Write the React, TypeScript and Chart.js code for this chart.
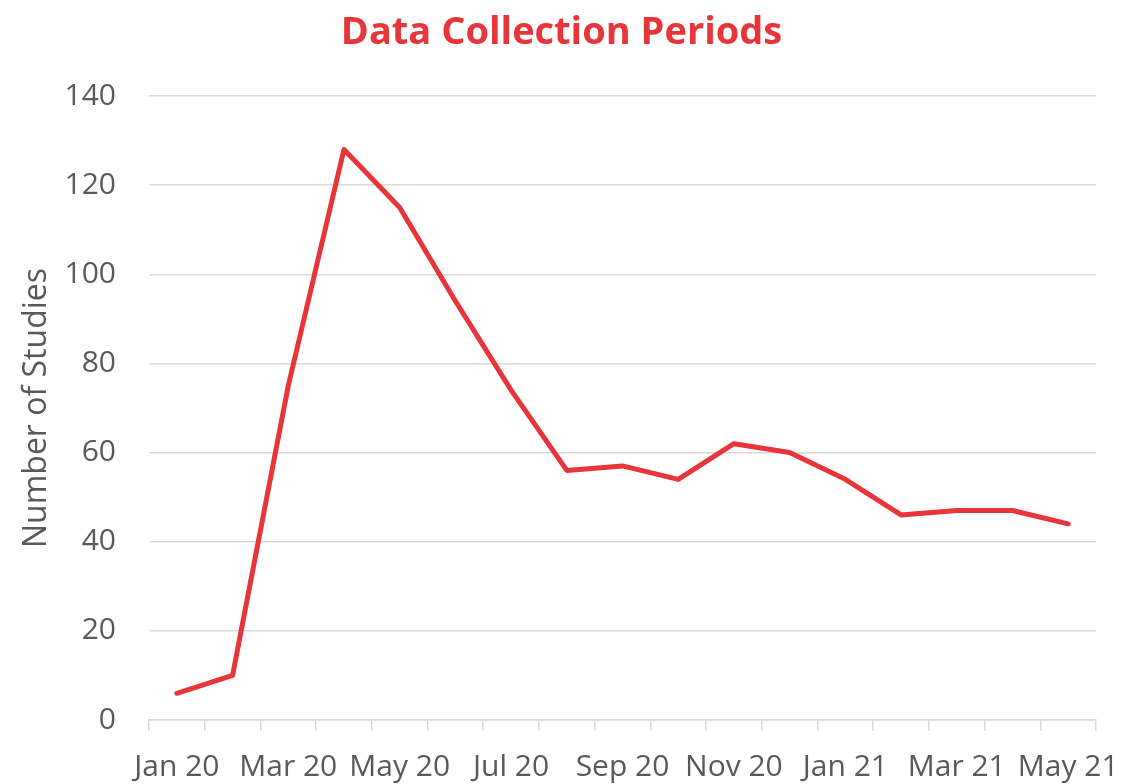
import React, { useEffect, useRef } from "react";
import { Chart, registerables } from "chart.js";

Chart.register(...registerables);

const months = [
  "Jan 20", "Feb 20", "Mar 20", "Apr 20", "May 20", "Jun 20", "Jul 20", "Aug 20", "Sep 20",
  "Oct 20", "Nov 20", "Dec 20", "Jan 21", "Feb 21", "Mar 21", "Apr 21", "May 21",
];
const studies = [6, 10, 75, 128, 115, 94, 74, 56, 57, 54, 62, 60, 54, 46, 47, 47, 44];
const yTicks = { min: 0, max: 140, step: 20 };
const chartTitle = "Data Collection Periods";
const yTitle = "Number of Studies";

const RED = "#E8353A";
const GRAY = "#595959";
const GRID = "#D9D9D9";
const FONT = "'Open Sans', 'Noto Sans', sans-serif";

export default function App() {
  const ref = useRef<HTMLCanvasElement>(null);
  useEffect(() => {
    if (!ref.current) return;
    const titlePlugin = {
      id: "fixedTitle",
      afterDraw(chart: any) {
        const ctx = chart.ctx;
        ctx.save();
        ctx.font = `bold 38px ${FONT}`;
        ctx.fillStyle = RED;
        ctx.textAlign = "center";
        ctx.textBaseline = "middle";
        ctx.fillText(chartTitle, chart.width / 2, 33);
        ctx.restore();
      },
    };
    const chart = new Chart(ref.current, {
      type: "line",
      data: {
        labels: months,
        datasets: [
          {
            data: studies,
            borderColor: RED,
            backgroundColor: RED,
            borderWidth: 5,
            pointRadius: 0,
            borderCapStyle: "round",
            borderJoinStyle: "round",
            tension: 0,
          },
        ],
      },
      options: {
        responsive: false,
        animation: false,
        layout: { padding: { top: 96, right: 27, bottom: 0, left: 0 } },
        plugins: { legend: { display: false }, title: { display: false }, tooltip: { enabled: false } },
        scales: {
          x: {
            type: "category",
            offset: true,
            afterFit: (s: any) => {
              s.height = 64;
              s.paddingLeft = 0;
              s.paddingRight = 0;
            },
            grid: {
              offset: true,
              drawOnChartArea: false,
              drawTicks: true,
              tickLength: 11,
              color: GRID,
              lineWidth: 1.5,
            },
            border: { display: true, color: GRID, width: 1.5 },
            ticks: {
              autoSkip: false,
              maxRotation: 0,
              minRotation: 0,
              padding: 18,
              color: GRAY,
              font: { family: FONT, size: 30 },
              callback: (_v: any, i: number) => (i % 2 === 0 ? months[i] : ""),
            },
          },
          y: {
            min: yTicks.min,
            max: yTicks.max,
            afterFit: (s: any) => {
              s.width = 149;
              s.paddingTop = 0;
              s.paddingBottom = 0;
            },
            grid: { color: GRID, lineWidth: 1.5, drawTicks: false },
            border: { display: false },
            ticks: {
              stepSize: yTicks.step,
              padding: 33,
              color: GRAY,
              font: { family: FONT, size: 30 },
            },
            title: {
              display: true,
              text: yTitle,
              color: GRAY,
              font: { family: FONT, size: 32 },
              padding: { top: 18, bottom: 0 },
            },
          },
        },
      },
      plugins: [titlePlugin],
    } as any);
    return () => chart.destroy();
  }, []);
  return (
    <div style={{ position: "absolute", left: 0, top: 0, width: 1123, height: 784, background: "#fff" }}>
      <canvas ref={ref} width={1123} height={784} style={{ display: "block" }} />
    </div>
  );
}
